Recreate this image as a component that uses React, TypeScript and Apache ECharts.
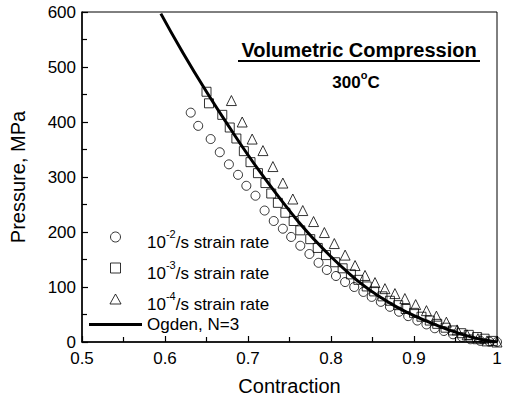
import React, { useEffect, useRef } from "react";
import * as echarts from "echarts";

// Data
const circleX = [0.631, 0.640, 0.655, 0.666, 0.677, 0.688, 0.698, 0.709, 0.720, 0.731, 0.742, 0.752, 0.763, 0.774, 0.785, 0.795, 0.806, 0.817, 0.828, 0.839, 0.849, 0.860, 0.871, 0.882, 0.893, 0.904, 0.915, 0.925, 0.936, 0.947, 0.958, 0.968, 0.980, 0.991, 1.0];
const circleY = [417, 393, 369, 345, 323, 304, 284, 266, 239, 220, 206, 191, 175, 160, 144, 131, 120, 109, 100, 91, 82, 73, 64, 55, 47, 39, 32, 25, 20, 14, 9, 5, 2, 0.5, 0];

const squareX = [0.650, 0.653, 0.669, 0.678, 0.686, 0.695, 0.703, 0.712, 0.721, 0.728, 0.736, 0.745, 0.755, 0.763, 0.775, 0.784, 0.794, 0.805, 0.814, 0.824, 0.833, 0.843, 0.852, 0.862, 0.871, 0.881, 0.890, 0.900, 0.909, 0.919, 0.928, 0.938, 0.947, 0.957, 0.966, 0.976, 0.985, 0.995];
const squareY = [455, 434, 413, 390, 370, 347, 327, 307, 289, 270, 253, 235, 220, 203, 187, 171, 158, 145, 134, 123, 113, 101, 92, 83, 75, 67, 60, 53, 46, 39, 33, 26, 21, 16, 13, 9, 6, 2];

const triangleX = [0.680, 0.693, 0.705, 0.718, 0.730, 0.742, 0.754, 0.766, 0.779, 0.792, 0.804, 0.817, 0.829, 0.841, 0.853, 0.865, 0.877, 0.889, 0.902, 0.915, 0.927, 0.939, 0.952, 0.964, 0.977, 0.988, 1.0];
const triangleY = [439, 400, 369, 348, 319, 289, 260, 239, 219, 199, 179, 158, 139, 121, 108, 97, 88, 79, 68, 57, 47, 36, 22, 13, 6, 2, 0];

const ogdenX = [0.595, 0.62, 0.65, 0.68, 0.70, 0.72, 0.74, 0.76, 0.78, 0.80, 0.82, 0.84, 0.86, 0.88, 0.90, 0.92, 0.94, 0.96, 0.98, 1.0];
const ogdenY = [597, 530, 455, 385, 340, 298, 258, 220, 186, 155, 127, 102, 81, 63, 48, 35, 23, 13, 5, 0];

const seriesNames = ["10^-2/s strain rate", "10^-3/s strain rate", "10^-4/s strain rate", "Ogden, N=3"];
const xTicks = { min: 0.5, max: 1, interval: 0.1 };
const yTicks = { min: 0, max: 600, interval: 100 };
const titleText = "Volumetric Compression";
const tempParts = ["300", "o", "C"];
const xName = "Contraction";
const yName = "Pressure, MPa";

const zip = (xs: number[], ys: number[]) => xs.map((x, i) => [x, ys[i]]);

const FONT = "Liberation Sans, Arial, sans-serif";
const legendIcons = [
  "circle",
  "path://M0,0H10V10H0Z",
  "path://M5,0L10,9L0,9Z",
  "path://M0,0H53V3H0Z",
];

export default function App() {
  const ref = useRef<HTMLDivElement>(null);
  useEffect(() => {
    document.body.style.margin = "0";
    const chart = echarts.init(ref.current!, null, { renderer: "svg" });
    const markerStyle = { color: "transparent", borderColor: "#000", borderWidth: 1 };
    chart.setOption({
      animation: false,
      textStyle: { fontFamily: FONT, color: "#000" },
      grid: {
        left: 81, right: 8, top: 12, bottom: 56.5,
        show: true, borderColor: "#000", borderWidth: 1, backgroundColor: "transparent",
      },
      xAxis: {
        type: "value", min: xTicks.min, max: xTicks.max, interval: xTicks.interval,
        name: xName, nameLocation: "middle", nameGap: 34,
        nameTextStyle: { fontSize: 20, color: "#000", fontFamily: FONT },
        axisLine: { lineStyle: { color: "#000", width: 1.5 } },
        axisTick: { inside: true, length: 6, lineStyle: { color: "#000", width: 1.2 } },
        minorTick: { show: true, splitNumber: 2, length: 5, lineStyle: { color: "#000", width: 1.2 } },
        axisLabel: { fontSize: 17, color: "#000", margin: 8, fontFamily: FONT },
        splitLine: { show: false },
      },
      yAxis: {
        type: "value", min: yTicks.min, max: yTicks.max, interval: yTicks.interval,
        name: yName, nameLocation: "middle", nameGap: 54,
        nameTextStyle: { fontSize: 20, color: "#000", fontFamily: FONT },
        axisLine: { show: true, lineStyle: { color: "#000", width: 1.5 } },
        axisTick: { show: true, inside: true, length: 6, lineStyle: { color: "#000", width: 1.2 } },
        minorTick: { show: true, splitNumber: 2, length: 5, lineStyle: { color: "#000", width: 1.2 } },
        axisLabel: { fontSize: 17, color: "#000", margin: 6, fontFamily: FONT },
        splitLine: { show: false },
      },
      legend: {
        orient: "vertical", left: 89, top: 223, padding: 0, itemGap: 3,
        itemWidth: 53, itemHeight: 10, symbolKeepAspect: true,
        data: seriesNames.map((name, i) => (
          i === 3
            ? { name, icon: legendIcons[i], itemStyle: { color: "#000", borderWidth: 0 } }
            : { name, icon: legendIcons[i], itemStyle: { color: "transparent", borderColor: "#000", borderWidth: 1 } }
        )),
        formatter: (name: string) => {
          const m = name.match(/^10\^(-\d)(.*)$/);
          if (m) return `{n|10}{s|${m[1]}}{n|${m[2]}}`;
          return `{o|${name}}`;
        },
        textStyle: {
          fontFamily: FONT, color: "#000", fontSize: 17,
          rich: {
            n: { fontSize: 17, fontFamily: FONT, color: "#000", verticalAlign: "bottom" },
            s: { fontSize: 11, fontFamily: FONT, color: "#000", lineHeight: 28, padding: [5, 0, 0, 0], verticalAlign: "top" },
            o: { fontSize: 17, fontFamily: FONT, color: "#000" },
          },
        },
      },
      series: [
        { name: seriesNames[0], type: "scatter", symbol: "circle", symbolSize: 9, itemStyle: markerStyle, data: zip(circleX, circleY), clip: false },
        { name: seriesNames[1], type: "scatter", symbol: "rect", symbolSize: 9, itemStyle: markerStyle, data: zip(squareX, squareY), clip: false },
        { name: seriesNames[2], type: "scatter", symbol: "triangle", symbolSize: 10, itemStyle: markerStyle, data: zip(triangleX, triangleY), clip: false },
        {
          name: seriesNames[3], type: "line", smooth: true, symbol: "none", showSymbol: false,
          lineStyle: { color: "#000", width: 3 }, itemStyle: { color: "#000" },
          data: zip(ogdenX, ogdenY), z: 5,
        },
      ],
      graphic: [
        {
          type: "text", x: 359, y: 50,
          style: { text: titleText, font: `bold 20px ${FONT}`, fill: "#000", align: "center", verticalAlign: "middle" },
        },
        { type: "line", shape: { x1: 238, y1: 61, x2: 480, y2: 61 }, style: { stroke: "#000", lineWidth: 2 } },
        {
          type: "text", x: 356, y: 80,
          style: {
            text: `{n|${tempParts[0]}}{s|${tempParts[1]}}{n|${tempParts[2]}}`,
            align: "center", verticalAlign: "middle",
            rich: {
              n: { fontSize: 17, fontWeight: "bold", fontFamily: FONT, fill: "#000", verticalAlign: "bottom" },
              s: { fontSize: 11, fontWeight: "bold", fontFamily: FONT, fill: "#000", verticalAlign: "top", lineHeight: 22 },
            },
          },
        },
      ],
    });
    return () => chart.dispose();
  }, []);
  return <div ref={ref} style={{ position: "absolute", left: 0, top: 0, width: 505, height: 401 }} />;
}
